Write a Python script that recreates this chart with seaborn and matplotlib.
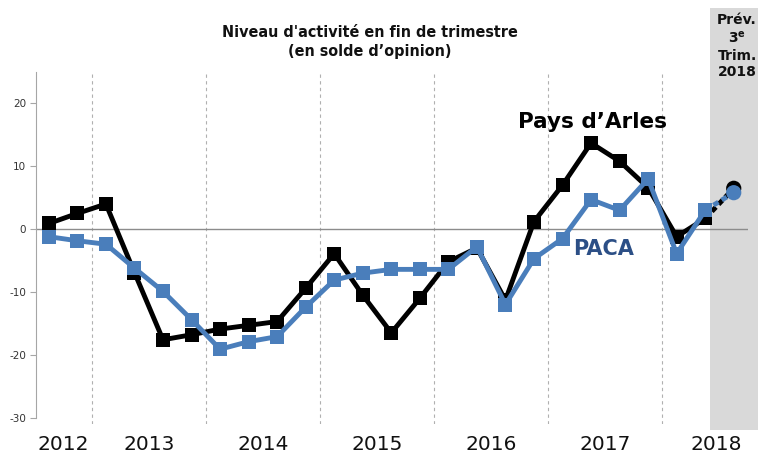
import matplotlib
matplotlib.use("Agg")
import matplotlib.pyplot as plt
import matplotlib.patches as mpatches
import seaborn as sns
import pandas as pd

# Quarterly data, 2012 T3 -> 2018 T2, plus forecast 2018 T3
quarters = ["2012T3", "2012T4",
            "2013T1", "2013T2", "2013T3", "2013T4",
            "2014T1", "2014T2", "2014T3", "2014T4",
            "2015T1", "2015T2", "2015T3", "2015T4",
            "2016T1", "2016T2", "2016T3", "2016T4",
            "2017T1", "2017T2", "2017T3", "2017T4",
            "2018T1", "2018T2", "2018T3"]
arles = [0.9, 2.5, 4.0, -6.9, -17.6, -16.8, -15.9, -15.3, -14.7, -9.4,
         -3.9, -10.5, -16.5, -11.0, -5.2, -3.0, -11.3, 1.2, 7.0, 13.7,
         10.8, 6.6, -1.2, 1.7, 6.5]
paca = [-1.2, -1.85, -2.4, -6.2, -9.9, -14.4, -19.1, -17.9, -17.1, -12.4,
        -8.1, -7.0, -6.4, -6.4, -6.4, -2.8, -12.0, -4.7, -1.5, 4.7,
        3.0, 8.0, -3.9, 3.0, 5.8]
years = ["2012", "2013", "2014", "2015", "2016", "2017", "2018"]
yticks = [-30, -20, -10, 0, 10, 20]

BLUE = "#4a7ebb"
GRID = "#a6a6a6"

df = pd.DataFrame({"idx": range(len(quarters)), "q": quarters,
                   "arles": arles, "paca": paca})
df["year"] = df["q"].str[:4]
hist = df.iloc[:-1]
fcst = df.iloc[-2:]

sns.set_style("white")
plt.rcParams["font.family"] = ["DejaVu Sans"]

fig = plt.figure(figsize=(7.58, 4.55), dpi=100)
ax = fig.add_axes([36 / 758, 1 - 424 / 455, (748 - 36) / 758, (424 - 72) / 455])
ax.patch.set_alpha(0)
ax.set_zorder(2)

# grey forecast band (drawn on the figure, behind the axes)
fig.patches.append(mpatches.Rectangle((710 / 758, 1 - 430 / 455), 1 - 710 / 758, 422 / 455,
                                      transform=fig.transFigure, facecolor="#d9d9d9",
                                      edgecolor="none", zorder=0))

# year separators
for i in range(1, len(df)):
    if df["year"].iloc[i] != df["year"].iloc[i - 1]:
        ax.axvline(i - 0.5, color="#b0b0b0", lw=0.8, ls=(0, (3, 3)), zorder=1)
ax.axhline(0, color="#8c8c8c", lw=1, zorder=1)

for col, color in [("arles", "black"), ("paca", BLUE)]:
    sns.lineplot(data=hist, x="idx", y=col, ax=ax, color=color, lw=3.5,
                 marker="s", markersize=10, markeredgewidth=0, zorder=3)
    sns.lineplot(data=fcst, x="idx", y=col, ax=ax, color=color, lw=3.5,
                 linestyle=(0, (1.2, 0.8)), zorder=3)
    sns.scatterplot(data=fcst.iloc[-1:], x="idx", y=col, ax=ax, color=color,
                    s=120, edgecolor="none", zorder=4)

ax.set_xlim(-0.45, 24.5)
ax.set_ylim(-31, 25)
ax.set_yticks(yticks)
ax.set_yticklabels([str(v) for v in yticks], fontsize=7.5, color="#333333")
ax.tick_params(axis="y", length=4, color=GRID, pad=3, left=True)
ax.set_xticks([])
ax.set_xlabel("")
ax.set_ylabel("")
for s in ["top", "right", "bottom"]:
    ax.spines[s].set_visible(False)
ax.spines["left"].set_color(GRID)
ax.spines["left"].set_bounds(-30, 25)

# year labels under each year block
for y in years:
    idx = df.loc[df["year"] == y, "idx"]
    lo = max(idx.min() - 0.5, -0.7)
    hi = idx.max() + 0.5 if y != "2018" else 25.3
    ax.text((lo + hi) / 2, -34.3, y, ha="center", va="center", fontsize=14.5,
            color="#111111", clip_on=False)

ax.text(19.06, 17, "Pays d\u2019Arles", ha="center", va="center", fontsize=15.5,
        fontweight="bold", color="black")
ax.text(19.43, -3.2, "PACA", ha="center", va="center", fontsize=15,
        fontweight="bold", color="#2c4f86")

fig.text(370 / 758, 1 - 42 / 455, "Niveau d'activit\u00e9 en fin de trimestre\n(en solde d\u2019opinion)",
         ha="center", va="center", fontsize=11.5, fontweight="bold", fontstretch="condensed",
         linespacing=1.3, color="#111111")
fig.text(737 / 758, 1 - 46 / 455, "Pr\u00e9v.\n$\\mathbf{3^{e}}$\nTrim.\n2018",
         ha="center", va="center", fontsize=10, fontweight="bold", linespacing=1.25,
         color="#111111")

fig.savefig("out.png", dpi=100)
